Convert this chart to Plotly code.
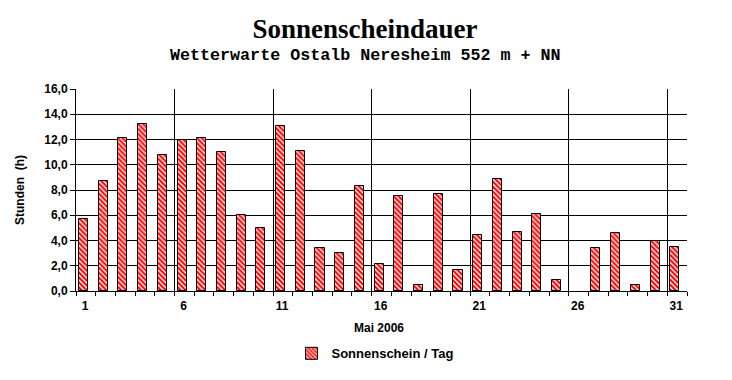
import plotly.graph_objects as go

days = list(range(1, 32))
sunshine = [5.7, 8.7, 12.1, 13.2, 10.8, 12.0, 12.1, 11.0, 6.0, 5.0,
            13.1, 11.1, 3.4, 3.0, 8.3, 2.1, 7.5, 0.5, 7.7, 1.7,
            4.4, 8.9, 4.7, 6.1, 0.9, 0.0, 3.4, 4.6, 0.5, 4.0, 3.5]
# major ticks sit on the day boundary left of each labelled day
x_tick_vals = [0.5, 5.5, 10.5, 15.5, 20.5, 25.5, 30.5]
x_tick_text = ["1", "6", "11", "16", "21", "26", "31"]
x_minor_vals = [d + 0.5 for d in range(0, 32)]
y_tick_vals = [0, 2, 4, 6, 8, 10, 12, 14, 16]
y_tick_text = ["0,0", "2,0", "4,0", "6,0", "8,0", "10,0", "12,0", "14,0", "16,0"]

SANS = "Liberation Sans, Arial, sans-serif"

fig = go.Figure()
fig.add_trace(go.Bar(
    x=days, y=sunshine, name="Sonnenschein / Tag",
    width=0.46, offset=-0.35,
    marker=dict(color="#ff0000",
                line=dict(color="black", width=[1 if v > 0 else 0 for v in sunshine]),
                pattern=dict(shape="\\", fgcolor="white", bgcolor="#ff0000",
                             fgopacity=1, size=3.5, solidity=0.4)),
    showlegend=True,
))

fig.update_layout(
    width=732, height=380,
    margin=dict(l=76, r=45, t=89, b=87),
    paper_bgcolor="white", plot_bgcolor="white",
    font=dict(family=SANS, size=12, color="black"),
    title=dict(text="Sonnenscheindauer", x=365 / 732, xref="container", xanchor="center",
               y=1 - 29 / 380, yref="container", yanchor="middle",
               font=dict(family="Liberation Serif, Times New Roman, serif", size=27,
                         weight="bold", color="black")),
    showlegend=True,
    legend=dict(orientation="h", x=(375 - 76) / 611, xanchor="center",
                y=(293 - 356) / 204, yanchor="middle",
                font=dict(family=SANS, size=13, weight="bold", color="black")),
    bargap=0,
    xaxis=dict(range=[0.5, 31.5], tickmode="array", tickvals=x_tick_vals,
               ticktext=x_tick_text, ticks="outside", ticklen=4, tickcolor="black",
               ticklabelshift=9,
               showgrid=True, gridcolor="black", gridwidth=1,
               showline=True, linecolor="black", linewidth=1,
               tickfont=dict(family=SANS, size=12, weight="bold"),
               zeroline=False, automargin=False,
               minor=dict(tickmode="array", tickvals=x_minor_vals, ticks="outside",
                          ticklen=4, tickcolor="black", tickwidth=1, showgrid=False)),
    yaxis=dict(range=[0, 16], tickmode="array", tickvals=y_tick_vals,
               ticktext=y_tick_text, ticks="outside", ticklen=5, tickcolor="black",
               showgrid=True, gridcolor="black", gridwidth=1,
               showline=True, linecolor="black", linewidth=1, zeroline=False,
               automargin=False,
               tickfont=dict(family=SANS, size=12, weight="bold")),
)

fig.add_annotation(text="Wetterwarte Ostalb Neresheim 552 m + NN",
                   xref="paper", yref="paper", x=(365 - 76) / 611, y=(293 - 55) / 204,
                   xanchor="center", yanchor="middle", showarrow=False,
                   font=dict(family="Liberation Mono, Courier New, monospace", size=16.7,
                             weight="bold", color="black"))
fig.add_annotation(text="Stunden  (h)", xref="paper", yref="paper",
                   x=(20 - 76) / 611, y=0.5, textangle=-90,
                   xanchor="center", yanchor="middle", showarrow=False,
                   font=dict(family=SANS, size=12, weight="bold", color="black"))
fig.add_annotation(text="Mai 2006", xref="paper", yref="paper",
                   x=(379 - 76) / 611, y=(293 - 330) / 204,
                   xanchor="center", yanchor="middle", showarrow=False,
                   font=dict(family=SANS, size=12, weight="bold", color="black"))

fig.write_html("out.html")
